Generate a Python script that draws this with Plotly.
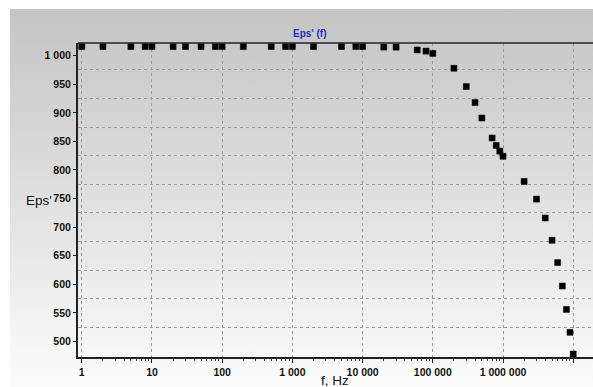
import base64
import plotly.graph_objects as go

# Frequency sweep (Hz) and measured real permittivity Eps'
freq_hz = [1, 2, 5, 8, 10, 20, 30, 50, 80, 100, 200, 500, 800, 1000, 2000,
           5000, 8000, 10000, 20000, 30000, 60000, 80000, 100000, 200000,
           300000, 400000, 500000, 700000, 800000, 900000, 1000000, 2000000,
           3000000, 4000000, 5000000, 6000000, 7000000, 8000000, 9000000,
           10000000]
eps_real = [1016, 1016, 1016, 1016, 1016, 1016, 1016, 1016, 1016, 1016, 1016,
            1016, 1016, 1016, 1016, 1016, 1016, 1016, 1015, 1015, 1010, 1008,
            1004, 978, 946, 918, 891, 856, 843, 833, 824, 780, 749, 716,
            677, 638, 597, 556, 516, 478]

x_tick_vals = [1, 10, 100, 1000, 10000, 100000, 1000000, 10000000]
x_tick_text = ["1", "10", "100", "1 000", "10 000", "100 000", "1 000 000",
               "10 000 000"]
y_tick_vals = [500, 550, 600, 650, 700, 750, 800, 850, 900, 950, 1000]
y_tick_text = ["500", "550", "600", "650", "700", "750", "800", "850", "900",
               "950", "1 000"]
y_grid_vals = [525, 575, 625, 675, 725, 775, 825, 875, 925, 975]
x_minor_vals = [m * 10 ** d for d in range(7) for m in range(2, 10)]

W, H = 593, 387
ML, MR, MT, MB = 78, 0, 43, 30
PW, PH = W - ML - MR, H - MT - MB

# vertical grey-to-white backdrop
svg = ('<svg xmlns="http://www.w3.org/2000/svg" width="100" height="100" '
       'preserveAspectRatio="none"><defs><linearGradient id="g" x1="0" y1="0" '
       'x2="0" y2="1"><stop offset="0" stop-color="#c4c4c4"/>'
       '<stop offset="1" stop-color="#fcfcfc"/></linearGradient></defs>'
       '<rect width="100" height="100" fill="url(#g)"/></svg>')
bg_src = "data:image/svg+xml;base64," + base64.b64encode(svg.encode()).decode()

def px_x(p):
    return (p - ML) / PW

def px_y(p):
    return (H - MB - p) / PH

tick_font = dict(family="Liberation Sans, Arial, sans-serif", size=10.5,
                 color="#111111", weight="bold")

fig = go.Figure()
fig.add_trace(go.Scatter(
    x=freq_hz, y=eps_real, mode="markers",
    marker=dict(symbol="square", size=6, color="#000000",
                line=dict(width=0.5, color="#000000")),
    hoverinfo="x+y", showlegend=False,
))

fig.update_layout(
    width=W, height=H,
    margin=dict(l=ML, r=MR, t=MT, b=MB, pad=0),
    paper_bgcolor="#ffffff",
    plot_bgcolor="rgba(0,0,0,0)",
    images=[dict(source=bg_src, xref="paper", yref="paper",
                 x=px_x(10), y=px_y(9), sizex=(W - 10) / PW,
                 sizey=(H - 9) / PH, xanchor="left", yanchor="top",
                 sizing="stretch", layer="below")],
    xaxis=dict(
        type="log", range=[-0.054, 7.282],
        tickvals=x_tick_vals, ticktext=x_tick_text, tickfont=tick_font,
        ticks="outside", ticklen=4, tickwidth=1, tickcolor="#222222",
        showline=True, linecolor="#222222", linewidth=2,
        showgrid=True, gridcolor="#9a9a9a", gridwidth=1, griddash="dot",
        zeroline=False,
        minor=dict(tickvals=x_minor_vals, ticks="outside", ticklen=2,
                   tickcolor="#444444", showgrid=False),
    ),
    yaxis=dict(
        range=[472.8, 1022.2],
        tickvals=y_tick_vals, ticktext=y_tick_text, tickfont=tick_font,
        ticks="outside", ticklen=3, tickwidth=1, tickcolor="#222222",
        showline=True, linecolor="#222222", linewidth=2,
        showgrid=False, zeroline=False,
        minor=dict(tickvals=y_grid_vals, ticks="", showgrid=True,
                   gridcolor="#9a9a9a", gridwidth=1, griddash="dot"),
    ),
    shapes=[dict(type="line", xref="paper", yref="paper", x0=0, x1=1,
                 y0=1, y1=1, line=dict(color="#222222", width=1.5))],
    annotations=[
        dict(text="<b>Eps' (f)</b>", xref="paper", yref="paper",
             x=px_x(310), y=px_y(34), xanchor="center", yanchor="middle",
             showarrow=False,
             font=dict(family="Liberation Sans, Arial, sans-serif", size=10,
                       color="#2a2acc")),
        dict(text="Eps'", xref="paper", yref="paper",
             x=px_x(39), y=px_y(200), xanchor="center", yanchor="middle",
             showarrow=False,
             font=dict(family="Liberation Sans, Arial, sans-serif", size=13.5,
                       color="#111111")),
        dict(text="f, Hz", xref="paper", yref="paper",
             x=px_x(335), y=px_y(380), xanchor="center", yanchor="middle",
             showarrow=False,
             font=dict(family="Liberation Sans, Arial, sans-serif", size=13.5,
                       color="#111111")),
    ],
)

fig.write_html("out.html")
